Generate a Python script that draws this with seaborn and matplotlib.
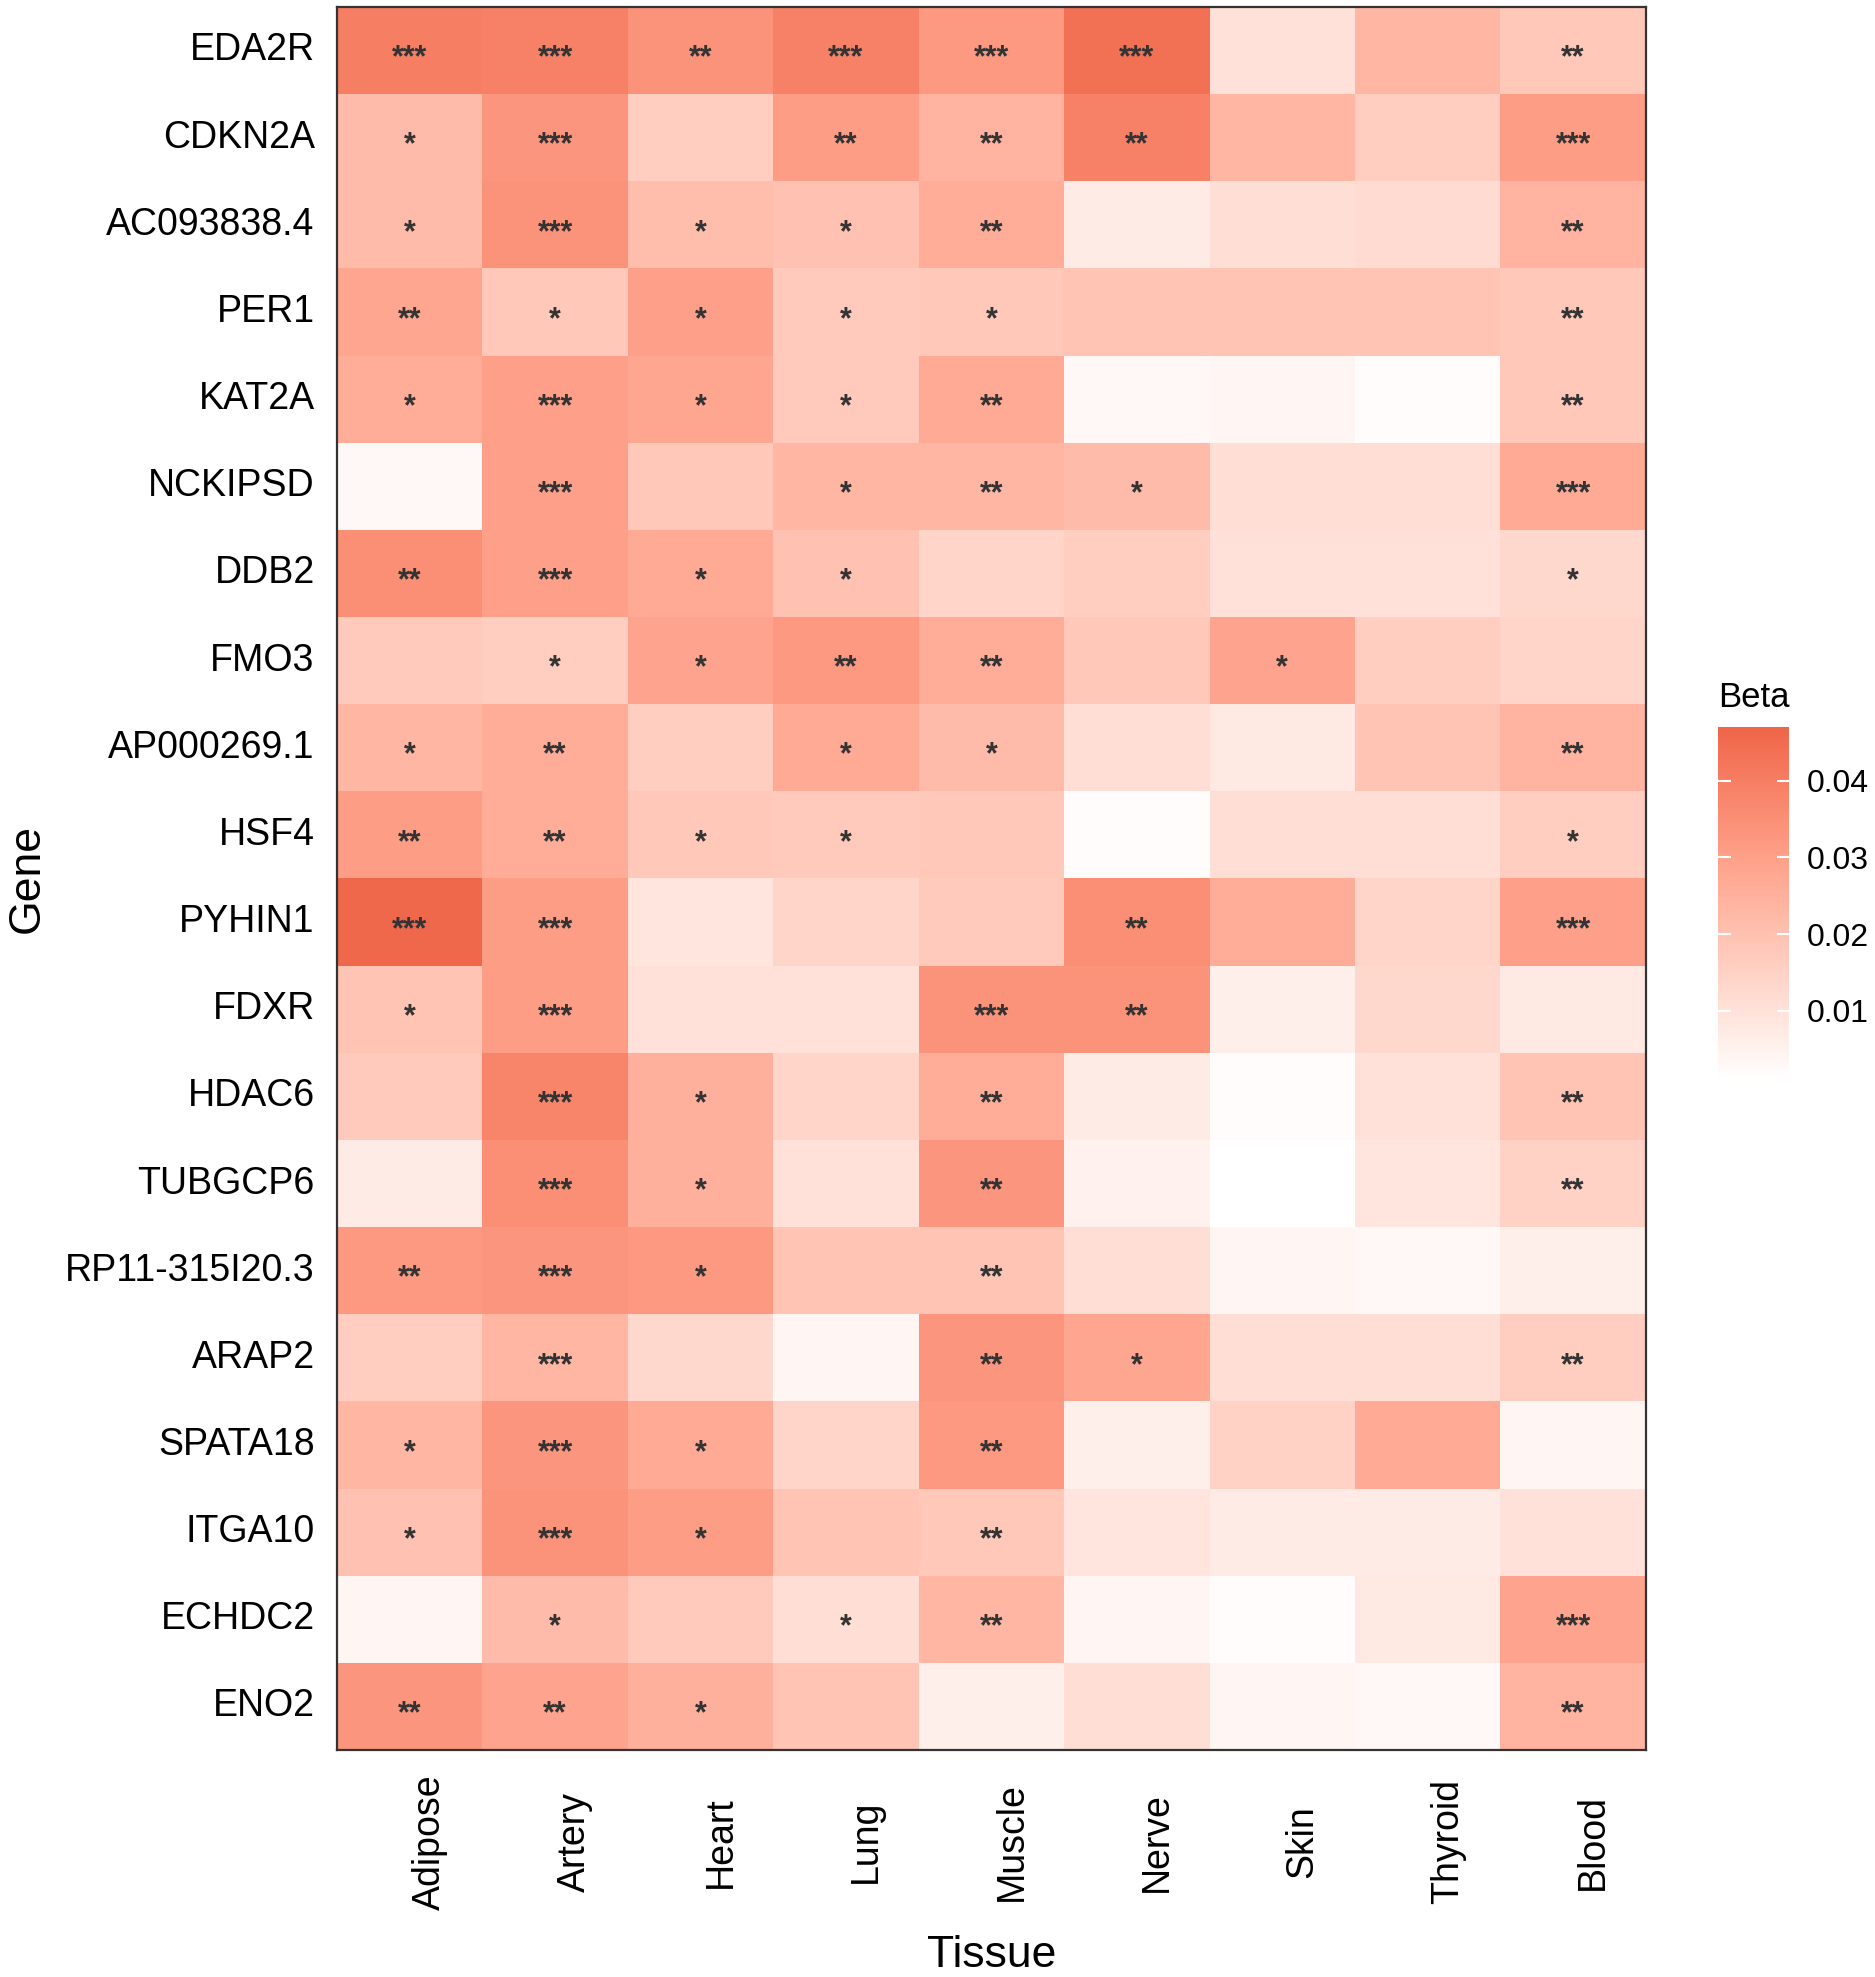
import numpy as np
import pandas as pd
import matplotlib
matplotlib.use("Agg")
import matplotlib.pyplot as plt
import matplotlib.transforms as mtrans
from matplotlib.colors import ListedColormap, to_rgb
import seaborn as sns

genes = ['EDA2R', 'CDKN2A', 'AC093838.4', 'PER1', 'KAT2A', 'NCKIPSD', 'DDB2',
         'FMO3', 'AP000269.1', 'HSF4', 'PYHIN1', 'FDXR', 'HDAC6', 'TUBGCP6',
         'RP11-315I20.3', 'ARAP2', 'SPATA18', 'ITGA10', 'ECHDC2', 'ENO2']
tissues = ['Adipose', 'Artery', 'Heart', 'Lung', 'Muscle', 'Nerve', 'Skin',
           'Thyroid', 'Blood']

# beta values, one row per gene (columns follow tissues)
beta = [
    [0.040, 0.039, 0.034, 0.039, 0.032, 0.044, 0.010, 0.023, 0.018],
    [0.022, 0.033, 0.016, 0.031, 0.024, 0.039, 0.023, 0.016, 0.031],
    [0.022, 0.034, 0.021, 0.020, 0.026, 0.007, 0.011, 0.012, 0.024],
    [0.028, 0.018, 0.030, 0.017, 0.018, 0.019, 0.019, 0.019, 0.018],
    [0.026, 0.030, 0.028, 0.017, 0.027, 0.003, 0.004, 0.002, 0.018],
    [0.003, 0.030, 0.018, 0.023, 0.023, 0.022, 0.011, 0.011, 0.027],
    [0.035, 0.030, 0.027, 0.020, 0.014, 0.016, 0.010, 0.010, 0.013],
    [0.017, 0.016, 0.029, 0.032, 0.026, 0.018, 0.029, 0.016, 0.014],
    [0.023, 0.026, 0.016, 0.027, 0.022, 0.011, 0.008, 0.019, 0.024],
    [0.031, 0.026, 0.018, 0.017, 0.018, 0.002, 0.011, 0.011, 0.016],
    [0.046, 0.031, 0.009, 0.014, 0.017, 0.035, 0.026, 0.014, 0.030],
    [0.019, 0.031, 0.010, 0.010, 0.034, 0.034, 0.006, 0.013, 0.008],
    [0.017, 0.038, 0.025, 0.014, 0.026, 0.007, 0.002, 0.010, 0.019],
    [0.007, 0.035, 0.025, 0.010, 0.033, 0.005, 0.001, 0.009, 0.015],
    [0.032, 0.033, 0.032, 0.019, 0.019, 0.011, 0.004, 0.003, 0.006],
    [0.016, 0.023, 0.013, 0.004, 0.033, 0.028, 0.011, 0.011, 0.016],
    [0.023, 0.033, 0.027, 0.014, 0.032, 0.006, 0.015, 0.027, 0.004],
    [0.020, 0.034, 0.031, 0.019, 0.018, 0.009, 0.007, 0.007, 0.010],
    [0.004, 0.022, 0.017, 0.011, 0.023, 0.004, 0.002, 0.008, 0.029],
    [0.033, 0.029, 0.025, 0.019, 0.006, 0.011, 0.004, 0.003, 0.024],
]

# significance stars
stars = [
    ['***', '***', '**', '***', '***', '***', '', '', '**'],
    ['*', '***', '', '**', '**', '**', '', '', '***'],
    ['*', '***', '*', '*', '**', '', '', '', '**'],
    ['**', '*', '*', '*', '*', '', '', '', '**'],
    ['*', '***', '*', '*', '**', '', '', '', '**'],
    ['', '***', '', '*', '**', '*', '', '', '***'],
    ['**', '***', '*', '*', '', '', '', '', '*'],
    ['', '*', '*', '**', '**', '', '*', '', ''],
    ['*', '**', '', '*', '*', '', '', '', '**'],
    ['**', '**', '*', '*', '', '', '', '', '*'],
    ['***', '***', '', '', '', '**', '', '', '***'],
    ['*', '***', '', '', '***', '**', '', '', ''],
    ['', '***', '*', '', '**', '', '', '', '**'],
    ['', '***', '*', '', '**', '', '', '', '**'],
    ['**', '***', '*', '', '**', '', '', '', ''],
    ['', '***', '', '', '**', '*', '', '', '**'],
    ['*', '***', '*', '', '**', '', '', '', ''],
    ['*', '***', '*', '', '**', '', '', '', ''],
    ['', '*', '', '*', '**', '', '', '', '***'],
    ['**', '**', '*', '', '', '', '', '', '**'],
]

cbar_ticks = [0.01, 0.02, 0.03, 0.04]


# white -> red gradient interpolated in Lab space (like ggplot's scale_fill_gradient)
def rgb2lab(c):
    c = np.asarray(c, float)
    lin = np.where(c > 0.04045, ((c + 0.055) / 1.055) ** 2.4, c / 12.92)
    m = np.array([[0.4124, 0.3576, 0.1805],
                  [0.2126, 0.7152, 0.0722],
                  [0.0193, 0.1192, 0.9505]])
    xyz = m @ lin / np.array([0.95047, 1.0, 1.08883])
    f = np.where(xyz > 0.008856, np.cbrt(xyz), 7.787 * xyz + 16 / 116)
    return np.array([116 * f[1] - 16, 500 * (f[0] - f[1]), 200 * (f[1] - f[2])])


def lab2rgb(lab):
    L, a, b = lab
    fy = (L + 16) / 116
    fx = fy + a / 500
    fz = fy - b / 200
    f = np.array([fx, fy, fz])
    xyz = np.where(f ** 3 > 0.008856, f ** 3, (f - 16 / 116) / 7.787)
    xyz = xyz * np.array([0.95047, 1.0, 1.08883])
    m = np.array([[3.2406, -1.5372, -0.4986],
                  [-0.9689, 1.8758, 0.0415],
                  [0.0557, -0.2040, 1.0570]])
    lin = m @ xyz
    c = np.where(lin > 0.0031308, 1.055 * np.clip(lin, 0, None) ** (1 / 2.4) - 0.055, 12.92 * lin)
    return np.clip(c, 0, 1)


lo = rgb2lab(to_rgb('#FFFFFF'))
hi = rgb2lab(to_rgb('#EF6549'))
cols = [lab2rgb(lo + t * (hi - lo)) for t in np.linspace(0, 1, 256)]
cmap = ListedColormap(cols)

plt.rcParams['font.family'] = ['Liberation Sans', 'DejaVu Sans']

df = pd.DataFrame(beta, index=genes, columns=tissues)

fig = plt.figure(figsize=(18.75, 19.77), dpi=100)
ax = fig.add_axes([0.1797, 0.1148, 0.6981, 0.8817])
cax = fig.add_axes([0.9163, 0.4537, 0.0379, 0.1786])

sns.heatmap(df, cmap=cmap, vmin=0.001, vmax=0.047, ax=ax, cbar_ax=cax,
            annot=np.array(stars), fmt='',
            annot_kws={'fontsize': 22, 'fontweight': 'bold',
                       'color': '#333333', 'va': 'center'},
            cbar_kws={'ticks': cbar_ticks})

# push the stars down a little so they sit in the middle of the cells
down = mtrans.ScaledTranslation(0, -0.08, fig.dpi_scale_trans)
for t in ax.texts:
    t.set_transform(t.get_transform() + down)

for s in ax.spines.values():
    s.set_visible(True)
    s.set_linewidth(1.6)
    s.set_color('#333333')

ax.tick_params(axis='both', length=0)
ax.tick_params(axis='y', pad=16, labelsize=27, labelcolor='black')
ax.tick_params(axis='x', pad=66, labelsize=27, labelcolor='black')
ax.set_yticklabels(genes, rotation=0)
ax.set_xticklabels(tissues, rotation=90, va='center', ha='center')
shift = mtrans.ScaledTranslation(0.2, 0, fig.dpi_scale_trans)
for lab in ax.get_xticklabels():
    lab.set_transform(lab.get_transform() + shift)

ax.set_xlabel('Tissue', fontsize=32, va='center')
ax.xaxis.set_label_coords(0.5, -0.1176)
ax.set_ylabel('Gene', fontsize=32, va='center')
ax.yaxis.set_label_coords(-0.2368, 0.5)

cax.tick_params(direction='in', length=9, width=1.5, color='white',
                left=True, right=True, labelsize=23, pad=13)
cax.set_title('Beta', fontsize=25, loc='left', pad=14)

fig.savefig('out.png', dpi=100)
